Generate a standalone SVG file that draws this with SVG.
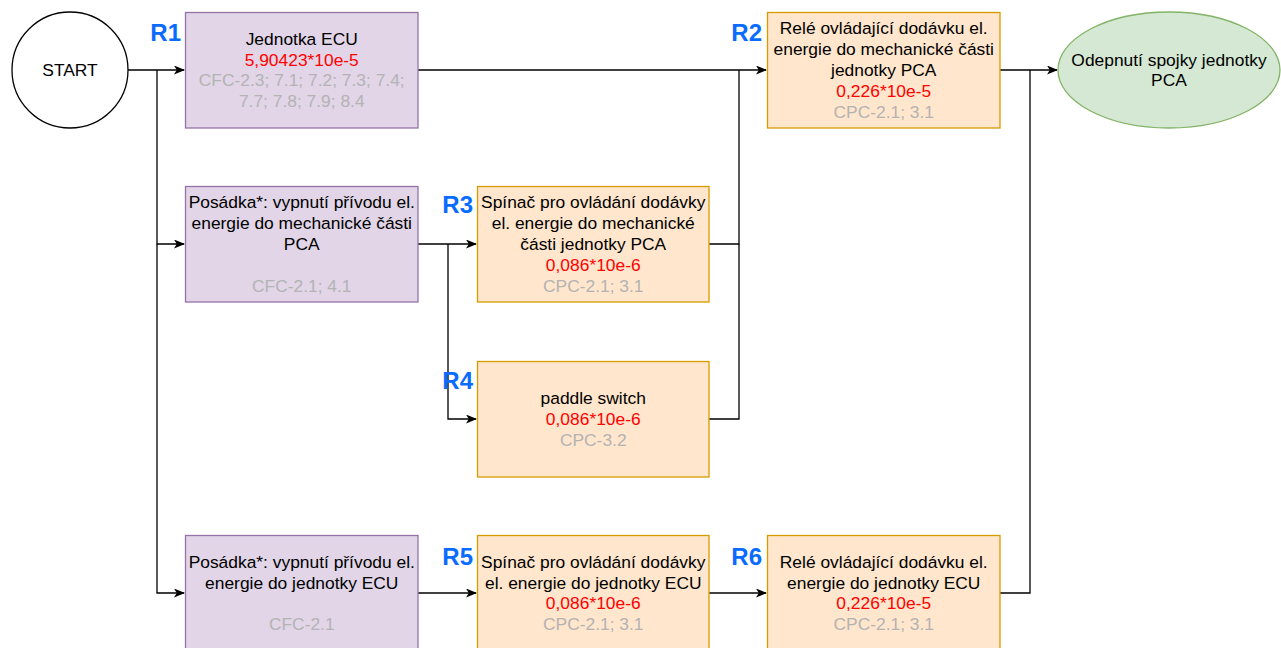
<svg xmlns="http://www.w3.org/2000/svg" width="1281" height="648" viewBox="0 0 1281 648">
  <style>
    .t { font-family: "Liberation Sans", Arial, Helvetica, sans-serif; font-size: 17.4px; text-anchor: middle; fill: #000000; }
    .red { fill: #ff0000; }
    .grey { fill: #b3b3b3; }
    .lbl { font-family: "Liberation Sans", Arial, Helvetica, sans-serif; font-size: 24px; font-weight: bold; fill: #0a6cff; text-anchor: end; }
    .purple { fill: #e1d5e7; stroke: #9673a6; stroke-width: 1.3; }
    .orange { fill: #ffe6cc; stroke: #d79b00; stroke-width: 1.3; }
    .green { fill: #d5e8d4; stroke: #82b366; stroke-width: 1.3; }
    .edge { fill: none; stroke: #000000; stroke-width: 1.3; }
  </style>
  <defs>
    <marker id="arrow" markerWidth="12" markerHeight="10" refX="10" refY="4.5" orient="auto" markerUnits="userSpaceOnUse">
      <path d="M0,0 L11,4.5 L0,9 L2.8,4.5 Z" fill="#000000"/>
    </marker>
  </defs>
  <rect width="1281" height="648" fill="#ffffff"/>

  <!-- connectors -->
  <g id="connectors">
    <path class="edge" d="M128,70 H184" marker-end="url(#arrow)"/>
    <path class="edge" d="M157,70 V244 H184" marker-end="url(#arrow)"/>
    <path class="edge" d="M157,244 V593 H184" marker-end="url(#arrow)"/>
    <path class="edge" d="M418,70 H766" marker-end="url(#arrow)"/>
    <path class="edge" d="M418,244 H476" marker-end="url(#arrow)"/>
    <path class="edge" d="M448,244 V419 H476" marker-end="url(#arrow)"/>
    <path class="edge" d="M709,244 H739 V70"/>
    <path class="edge" d="M709,419 H739 V244"/>
    <path class="edge" d="M1000,70 H1057" marker-end="url(#arrow)"/>
    <path class="edge" d="M1000,593 H1030 V70"/>
    <path class="edge" d="M418,593 H476" marker-end="url(#arrow)"/>
    <path class="edge" d="M709,593 H766" marker-end="url(#arrow)"/>
  </g>

  <!-- start -->
  <g id="start">
    <circle cx="70" cy="70" r="58" fill="#ffffff" stroke="#000000" stroke-width="1.3"/>
    <text class="t" x="70" y="76">START</text>
  </g>

  <!-- R1 -->
  <g id="r1">
    <rect class="purple" x="185.5" y="12.5" width="232.5" height="115.5"/>
    <text class="lbl" x="181" y="41">R1</text>
    <text class="t" x="301.75" y="44.8">Jednotka ECU</text>
    <text class="t red" x="301.75" y="65.6">5,90423*10e-5</text>
    <text class="t grey" x="301.75" y="86.4">CFC-2.3; 7.1; 7.2; 7.3; 7.4;</text>
    <text class="t grey" x="301.75" y="107.2">7.7; 7.8; 7.9; 8.4</text>
  </g>

  <!-- R2 -->
  <g id="r2">
    <rect class="orange" x="767.5" y="12.5" width="232.5" height="115.5"/>
    <text class="lbl" x="762" y="41">R2</text>
    <text class="t" x="883.75" y="34.4">Relé ovládající dodávku el.</text>
    <text class="t" x="883.75" y="55.2">energie do mechanické části</text>
    <text class="t" x="883.75" y="76">jednotky PCA</text>
    <text class="t red" x="883.75" y="96.8">0,226*10e-5</text>
    <text class="t grey" x="883.75" y="117.6">CPC-2.1; 3.1</text>
  </g>

  <!-- end -->
  <g id="end">
    <ellipse class="green" cx="1169" cy="70" rx="111" ry="58"/>
    <text class="t" x="1169" y="65.6">Odepnutí spojky jednotky</text>
    <text class="t" x="1169" y="86.4">PCA</text>
  </g>

  <!-- crew action, mechanical part -->
  <g id="crew-pca">
    <rect class="purple" x="185.5" y="186.5" width="232.5" height="115.5"/>
    <text class="t" x="301.75" y="208.4">Posádka*: vypnutí přívodu el.</text>
    <text class="t" x="301.75" y="229.2">energie do mechanické části</text>
    <text class="t" x="301.75" y="250">PCA</text>
    <text class="t grey" x="301.75" y="291.6">CFC-2.1; 4.1</text>
  </g>

  <!-- R3 -->
  <g id="r3">
    <rect class="orange" x="477.5" y="186.5" width="231.5" height="115.5"/>
    <text class="lbl" x="473" y="213">R3</text>
    <text class="t" x="593.25" y="208.4">Spínač pro ovládání dodávky</text>
    <text class="t" x="593.25" y="229.2">el. energie do mechanické</text>
    <text class="t" x="593.25" y="250">části jednotky PCA</text>
    <text class="t red" x="593.25" y="270.8">0,086*10e-6</text>
    <text class="t grey" x="593.25" y="291.6">CPC-2.1; 3.1</text>
  </g>

  <!-- R4 -->
  <g id="r4">
    <rect class="orange" x="477.5" y="361.5" width="231.5" height="115.5"/>
    <text class="lbl" x="473" y="389">R4</text>
    <text class="t" x="593.25" y="404.2">paddle switch</text>
    <text class="t red" x="593.25" y="425">0,086*10e-6</text>
    <text class="t grey" x="593.25" y="445.8">CPC-3.2</text>
  </g>

  <!-- crew action, ECU -->
  <g id="crew-ecu">
    <rect class="purple" x="185.5" y="535.5" width="232.5" height="115.5"/>
    <text class="t" x="301.75" y="567.8">Posádka*: vypnutí přívodu el.</text>
    <text class="t" x="301.75" y="588.6">energie do jednotky ECU</text>
    <text class="t grey" x="301.75" y="630.2">CFC-2.1</text>
  </g>

  <!-- R5 -->
  <g id="r5">
    <rect class="orange" x="477.5" y="535.5" width="231.5" height="115.5"/>
    <text class="lbl" x="473" y="565">R5</text>
    <text class="t" x="593.25" y="567.8">Spínač pro ovládání dodávky</text>
    <text class="t" x="593.25" y="588.6">el. energie do jednotky ECU</text>
    <text class="t red" x="593.25" y="609.4">0,086*10e-6</text>
    <text class="t grey" x="593.25" y="630.2">CPC-2.1; 3.1</text>
  </g>

  <!-- R6 -->
  <g id="r6">
    <rect class="orange" x="767.5" y="535.5" width="232.5" height="115.5"/>
    <text class="lbl" x="762" y="565">R6</text>
    <text class="t" x="883.75" y="567.8">Relé ovládající dodávku el.</text>
    <text class="t" x="883.75" y="588.6">energie do jednotky ECU</text>
    <text class="t red" x="883.75" y="609.4">0,226*10e-5</text>
    <text class="t grey" x="883.75" y="630.2">CPC-2.1; 3.1</text>
  </g>
</svg>
